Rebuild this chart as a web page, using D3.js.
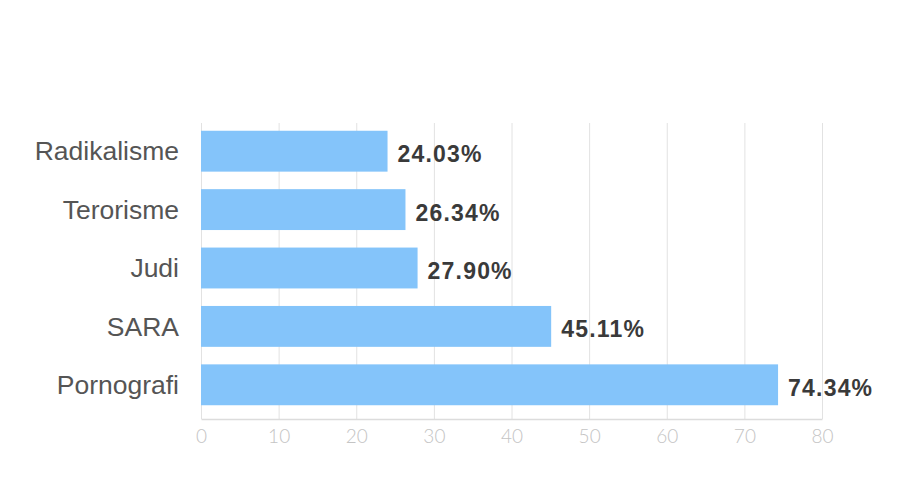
<!DOCTYPE html>
<html>
<head>
<meta charset="utf-8">
<script src="https://cdn.jsdelivr.net/npm/d3@7"></script>
<style>
  body { margin: 0; background: #fff; }
  svg { display: block; }
</style>
</head>
<body>
<svg id="chart" width="920" height="486"></svg>
<script>
// data
const categories = ['Radikalisme', 'Terorisme', 'Judi', 'SARA', 'Pornografi'];
const values = [24.03, 26.34, 27.90, 45.11, 74.34];
const tickValues = [0, 10, 20, 30, 40, 50, 60, 70, 80];

const svg = d3.select('#chart');

const x = d3.scaleLinear().domain([0, 80]).range([201, 822]);
const y = d3.scaleBand()
    .domain(categories)
    .range([122, 414])
    .paddingInner(0.3)
    .paddingOuter(0.15);

const gridTop = 123, gridBottom = 419;

// vertical grid lines
svg.append('g')
    .selectAll('line')
    .data(tickValues)
    .join('line')
    .attr('x1', d => x(d) + 0.5)
    .attr('x2', d => x(d) + 0.5)
    .attr('y1', gridTop)
    .attr('y2', gridBottom)
    .style('stroke', '#e2e2e2')
    .style('stroke-width', 1);

// bottom axis
const xAxis = d3.axisBottom(x)
    .tickValues(tickValues)
    .tickSize(0)
    .tickPadding(11);

const axisG = svg.append('g')
    .attr('transform', `translate(0,${gridBottom})`)
    .call(xAxis);

axisG.select('.domain')
    .style('stroke', '#dcdcdc')
    .style('stroke-width', 1.5);

axisG.selectAll('text')
    .style('font-family', 'Lato, "Liberation Sans", sans-serif')
    .style('font-weight', 300)
    .style('font-size', '19px')
    .style('fill', '#c4c4c4');

// bars
svg.append('g')
    .selectAll('rect')
    .data(values)
    .join('rect')
    .attr('x', x(0))
    .attr('y', (d, i) => y(categories[i]))
    .attr('width', d => x(d) - x(0))
    .attr('height', y.bandwidth())
    .style('fill', '#84c4fa');

// category labels
svg.append('g')
    .selectAll('text')
    .data(categories)
    .join('text')
    .attr('x', 179)
    .attr('y', d => y(d) + y.bandwidth() / 2)
    .attr('dy', '0.35em')
    .attr('text-anchor', 'end')
    .style('font-family', '"Liberation Sans", Arial, sans-serif')
    .style('font-size', '26.5px')
    .style('fill', '#555')
    .text(d => d);

// value labels
svg.append('g')
    .selectAll('text')
    .data(values)
    .join('text')
    .attr('x', d => x(d) + 10)
    .attr('y', (d, i) => y(categories[i]) + y.bandwidth() / 2 + 3)
    .attr('dy', '0.35em')
    .style('font-family', '"Liberation Sans", Arial, sans-serif')
    .style('font-weight', 'bold')
    .style('font-size', '23px')
    .style('letter-spacing', '1.2px')
    .style('fill', '#3a3a3a')
    .text(d => d.toFixed(2) + '%');
</script>
</body>
</html>
